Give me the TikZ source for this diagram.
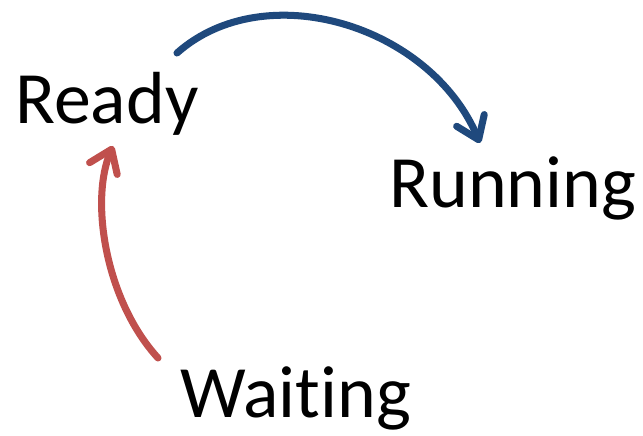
\documentclass[tikz,border=0pt]{standalone}
\usepackage{fontspec}
\setmainfont{Carlito}[Ligatures=NoCommon]
\usepackage{xcolor}
\usepackage{tikz}
\usetikzlibrary{arrows.meta}
\definecolor{navy}{HTML}{1F497D}
\definecolor{brick}{HTML}{C0504D}
\tikzset{
  state/.style={text=black, inner sep=0pt, anchor=base west, font=\fontsize{42}{50}\selectfont},
  barb/.style={-{Straight Barb[length=0.42cm, width=0.6cm, round]}, line width=4pt, line cap=round},
  bline/.style={barb, draw=navy},
  rline/.style={barb, draw=brick}
}

\begin{document}
\begin{tikzpicture}
  \useasboundingbox (0,0) rectangle (12.86,-8.72);

  \node[state] (ready)   at (0.30,-2.48) {Ready};
  \node[state] (running) at (7.78,-4.16) {Running};
  \node[state] (waiting) at (3.60,-8.36) {Waiting};

  % ready -> running, over the top
  \draw[bline] ([shift={(3.24,1.42)}]ready.base west)
    .. controls (5.3,0.5) and (8.6,-0.5) .. ([shift={(1.82,1.3)}]running.base west);

  % waiting -> ready, bowed to the left
  \draw[rline] ([shift={(-0.44,1.2)}]waiting.base west)
    .. controls (2.1,-6.0) and (1.8,-4.0) .. ([shift={(1.96,-0.44)}]ready.base west);
\end{tikzpicture}
\end{document}
